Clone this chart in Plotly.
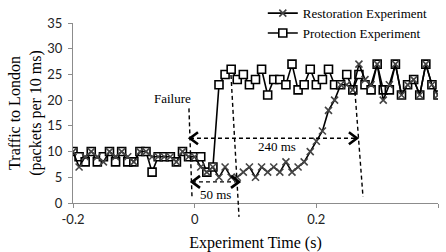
import plotly.graph_objects as go

time_s = [round(-0.2 + 0.01 * i, 2) for i in range(61)]

protection = [10, 9, 8, 10, 8, 9, 10, 8, 10, 8,
              8, 10, 10, 6, 9, 9, 9, 8, 10, 9,
              9, 9, 6, 7, 23, 25, 26, 24, 25, 23,
              24, 26, 21, 24, 24, 23, 27, 22,
              23, 26, 23, 24, 26, 23, 23, 25, 22, 25,
              23, 22, 27, 22, 22, 27, 21, 23, 24, 21, 27, 23, 21]

restoration = [10, 7, 9, 10, 9, 8, 10, 9, 10, 9,
               8, 10, 10, 9, 9, 9, 9, 8, 10, 9,
               9, 7, 6, 7, 5, 7, 5, 5, 6, 7,
               5, 7, 6, 7, 6, 8, 6, 7,
               8, 10, 12, 14, 18, 20, 23, 23, 22, 27,
               24, 23, 27, 20, 23, 27, 21, 23, 24, 21, 27, 23, 21]

x_ticks = [-0.2, 0, 0.2, 0.4]
x_tick_text = ["-0.2", "0", "0.2", "0.4"]
y_ticks = [0, 5, 10, 15, 20, 25, 30, 35]

SERIF = "Liberation Serif"
SANS = "Lato"

fig = go.Figure()
fig.add_trace(go.Scatter(
    x=time_s, y=protection, name="Protection Experiment", mode="lines+markers",
    line=dict(color="black", width=1.6),
    marker=dict(symbol="square", size=8, color="white", line=dict(color="black", width=1.6)),
))
fig.add_trace(go.Scatter(
    x=time_s, y=restoration, name="Restoration Experiment", mode="lines+markers",
    line=dict(color="black", width=1.6),
    marker=dict(symbol="x-thin", size=7, color="#444", line=dict(color="#444", width=1.6)),
))

DASH = dict(color="black", width=1.4, dash="4px,3px")


def yp(v):
    return v / 35.0


lines = [
    (-0.0094, 18.4, -0.0044, 1.2),
    (0.0597, 24.9, 0.0729, -2.7),
    (0.2635, 21.6, 0.2767, 1.2),
    (-0.0077, 12.6, 0.2667, 12.6),
    (-0.0044, 4.1, 0.0729, 4.1),
]
for x0, y0, x1, y1 in lines:
    fig.add_shape(type="line", xref="x", yref="paper", x0=x0, y0=yp(y0), x1=x1, y1=yp(y1), line=DASH)

chevrons = [
    (-0.0077, 12.6, "left"), (0.2667, 12.6, "right"),
    (-0.0044, 4.1, "left"), (0.0729, 4.1, "right"),
]
for cx, cy, d in chevrons:
    path = "M -8,6 L 0,0 L -8,-6" if d == "right" else "M 8,6 L 0,0 L 8,-6"
    fig.add_shape(type="path", xref="x", yref="paper", xsizemode="pixel", ysizemode="pixel",
                  xanchor=cx, yanchor=yp(cy), path=path,
                  line=dict(color="black", width=2.6))

texts = [("Failure", -0.037, 20.4), ("240 ms", 0.135, 10.9), ("50 ms", 0.035, 1.6)]
for t, ax, ay in texts:
    fig.add_annotation(text=t, x=ax, y=yp(ay), xref="x", yref="paper", showarrow=False,
                       xanchor="center", yanchor="middle",
                       font=dict(family=SERIF, size=13, color="black"))

fig.update_layout(
    width=446, height=252,
    margin=dict(l=73, r=8, t=23, b=49, autoexpand=False),
    plot_bgcolor="white", paper_bgcolor="white",
    showlegend=True,
    legend=dict(x=0.52, y=1.138, xanchor="left", yanchor="top", traceorder="reversed",
                font=dict(family=SERIF, size=13, color="black"), bgcolor="rgba(0,0,0,0)",
                itemwidth=30, tracegroupgap=0),
    xaxis=dict(range=[-0.2, 0.4], tickvals=x_ticks, ticktext=x_tick_text, showgrid=False,
               zeroline=False, showline=True, linecolor="#8c8c8c", linewidth=1,
               ticks="outside", ticklen=4, tickcolor="#8c8c8c", automargin=False,
               tickfont=dict(family=SANS, size=13, color="#222"),
               title=dict(text="Experiment Time (s)", font=dict(family=SERIF, size=16, color="black"), standoff=11)),
    yaxis=dict(range=[0, 35], tickvals=y_ticks, showgrid=False, zeroline=False,
               showline=True, linecolor="#8c8c8c", linewidth=1, automargin=False,
               ticks="outside", ticklen=4, tickcolor="#8c8c8c", ticklabelstandoff=3,
               tickfont=dict(family=SANS, size=13, color="#222"),
               title=dict(text="Traffic to London<br>(packets per 10 ms)",
                          font=dict(family=SERIF, size=16, color="black"), standoff=1)),
)

fig.write_html("out.html", config={"displayModeBar": False},
               post_script="document.body.style.margin='0';document.body.style.overflow='hidden';")
